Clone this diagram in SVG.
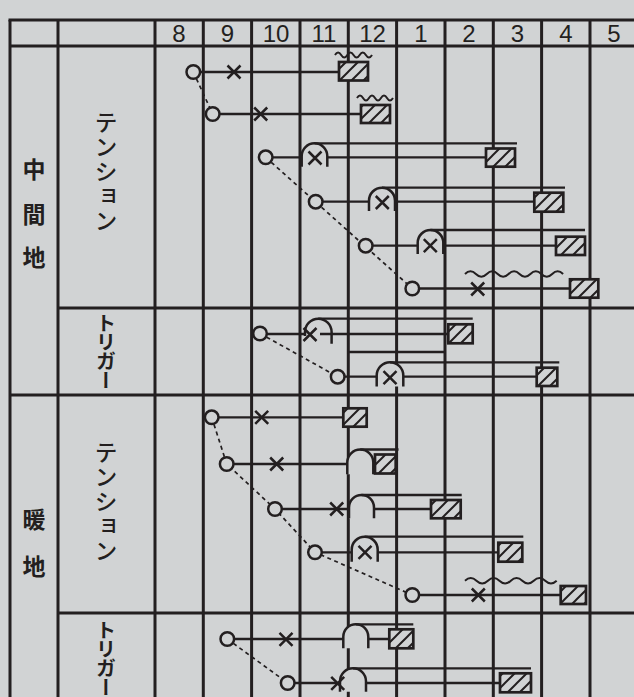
<svg xmlns="http://www.w3.org/2000/svg" xmlns:xlink="http://www.w3.org/1999/xlink" width="634" height="697" viewBox="0 0 634 697">
<style>
.g{stroke:#231f20;stroke-width:3;fill:none}
.l{stroke:#231f20;stroke-width:2.3;fill:none}
.d{stroke:#231f20;stroke-width:1.7;stroke-dasharray:4 3.5;fill:none}
.c{fill:#d1d3d4;stroke:#231f20;stroke-width:2.5}
.a{fill:#d1d3d4;stroke:#231f20;stroke-width:2.5}
.b{fill:url(#h);stroke:#231f20;stroke-width:2.7}
.x{stroke:#231f20;stroke-width:2.5;fill:none}
.w{stroke:#231f20;stroke-width:2;fill:none}
.n{font-family:"Liberation Sans",Arial,sans-serif;font-size:24px;fill:#231f20;text-anchor:middle}
.k{font-family:"Noto Sans CJK JP","Noto Sans",sans-serif;font-size:23px;font-weight:700;fill:#231f20;text-anchor:middle}
.v{font-family:"Noto Sans CJK JP","Noto Sans",sans-serif;font-size:23px;font-weight:500;fill:#231f20;text-anchor:middle;writing-mode:vertical-rl;letter-spacing:1.5px}
.t{font-family:"Noto Sans CJK JP","Noto Sans",sans-serif;font-size:20px;font-weight:700;fill:#231f20;text-anchor:middle;writing-mode:vertical-rl;letter-spacing:-1px}
</style>
<defs>
<pattern id="h" patternUnits="userSpaceOnUse" width="12" height="12">
<rect width="12" height="12" fill="#d1d3d4"/>
<path d="M0,12 L12,0 M-3,3 L3,-3 M9,15 L15,9" stroke="#231f20" stroke-width="2"/>
</pattern>
<path id="xm" d="M-6.5,-6.5 L6.5,6.5 M6.5,-6.5 L-6.5,6.5" class="x"/>
</defs>
<rect width="634" height="697" fill="#d1d3d4"/>
<g id="grid">
<path class="g" d="M10,20 V697 M58,20 V697 M155,20 V697 M203.3,20 V697 M251.6,20 V697 M300,20 V697 M348.3,20 V697 M396.6,20 V697 M445,20 V697 M493.3,20 V697 M541.6,20 V697 M590,20 V697"/>
<path class="g" d="M8.5,20 H634 M10,46 H634 M58,308 H634 M10,395 H634 M58,613 H634"/>
<path class="l" d="M348.3,352 H445"/>
</g>
<g id="header">
<text class="n" x="179" y="41.5">8</text>
<text class="n" x="227.5" y="41.5">9</text>
<text class="n" x="276" y="41.5">10</text>
<text class="n" x="324" y="41.5">11</text>
<text class="n" x="372.5" y="41.5">12</text>
<text class="n" x="421" y="41.5">1</text>
<text class="n" x="469" y="41.5">2</text>
<text class="n" x="517.5" y="41.5">3</text>
<text class="n" x="566" y="41.5">4</text>
<text class="n" x="614" y="41.5">5</text>
</g>
<g id="labels">
<text class="k" x="34" y="178">中</text>
<text class="k" x="34" y="223">間</text>
<text class="k" x="34" y="266">地</text>
<text class="k" x="34" y="528">暖</text>
<text class="k" x="34" y="575">地</text>
<text class="v" x="106" y="172">テンション</text>
<text class="t" x="106" y="351">トリガー</text>
<text class="v" x="106" y="502">テンション</text>
<text class="t" x="106" y="658">トリガー</text>
</g>
<g id="connectors">
<path class="d" d="M193.3,72 L212.7,114"/>
<path class="d" d="M265.7,157.3 L412.3,288.5"/>
<path class="d" d="M260,333.5 L337.7,376.7"/>
<path class="d" d="M211.7,417.3 L226.7,464 L275,509 L315,552.3 L412.3,595"/>
<path class="d" d="M227.3,639 L287.7,683"/>
</g>
<g id="row-m1">
<path class="l" d="M200.3,72 H339"/>
<use xlink:href="#xm" x="234" y="72"/>
<circle class="c" cx="193.3" cy="72" r="6.8"/>
<rect class="b" x="339" y="62" width="29" height="18.5"/>
<path class="w" d="M335,55 q3.08,-5 6.17,0 t6.17,0 t6.17,0 t6.17,0 t6.17,0 t6.17,0"/>
</g>
<g id="row-m2">
<path class="l" d="M219.7,114 H361"/>
<use xlink:href="#xm" x="260.7" y="114"/>
<circle class="c" cx="212.7" cy="114" r="6.8"/>
<rect class="b" x="361" y="105" width="29" height="18"/>
<path class="w" d="M357,98 q3,-5 6,0 t6,0 t6,0 t6,0 t6,0 t6,0"/>
</g>
<g id="row-m3">
<path class="l" d="M272.7,157.3 H301.7 M327.3,157.3 H486"/>
<path class="a" d="M301.7,166.7 V156.1 A12.8,12.8 0 0 1 327.3,156.1 V166.7"/>
<path class="l" d="M314.5,143.3 H517"/>
<use xlink:href="#xm" x="315" y="158"/>
<circle class="c" cx="265.7" cy="157.3" r="6.8"/>
<rect class="b" x="486" y="148.5" width="29" height="18.2"/>
</g>
<g id="row-m4">
<path class="l" d="M322.7,201.7 H369 M395,201.7 H534.3"/>
<path class="a" d="M369,211 V200.7 A13,13 0 0 1 395,200.7 V211"/>
<path class="l" d="M382,187.7 H565"/>
<use xlink:href="#xm" x="382.3" y="202.5"/>
<circle class="c" cx="315.7" cy="201.7" r="6.8"/>
<rect class="b" x="534.3" y="192.7" width="29" height="19"/>
</g>
<g id="row-m5">
<path class="l" d="M372.7,245.7 H417.7 M443.3,245.7 H556"/>
<path class="a" d="M417.7,254 V242.8 A12.8,12.8 0 0 1 443.3,242.8 V254"/>
<path class="l" d="M430.5,230 H585"/>
<use xlink:href="#xm" x="430.3" y="245.7"/>
<circle class="c" cx="365.7" cy="245.7" r="6.8"/>
<rect class="b" x="556" y="236.7" width="29" height="18.3"/>
</g>
<g id="row-m6">
<path class="l" d="M419.3,288.5 H570"/>
<use xlink:href="#xm" x="477.7" y="289"/>
<circle class="c" cx="412.3" cy="288.5" r="6.8"/>
<rect class="b" x="570" y="279.3" width="28.3" height="18.4"/>
<path class="w" d="M465,274 q5.45,-5.5 10.9,0 t10.9,0 t10.9,0 t10.9,0 t10.9,0 t10.9,0 t10.9,0 t10.9,0 t10.9,0"/>
</g>
<g id="row-m7">
<path class="a" d="M305,336 V332 A13.3,13.3 0 0 1 331.6,332 V343.7"/>
<path class="l" d="M267,334 H304 M320,334 H448.3"/>
<path class="l" d="M318.3,318.7 H472.7"/>
<use xlink:href="#xm" x="310" y="334.5"/>
<circle class="c" cx="260" cy="333.5" r="6.8"/>
<rect class="b" x="448.3" y="324.3" width="24.4" height="19"/>
</g>
<g id="row-m8">
<path class="l" d="M344.7,376.7 H376.7 M403.3,376.7 H536.7"/>
<path class="a" d="M376.7,386.5 V375.6 A13.3,13.3 0 0 1 403.3,375.6 V386.5"/>
<path class="l" d="M390,362.3 H559.3"/>
<use xlink:href="#xm" x="390" y="377.7"/>
<circle class="c" cx="337.7" cy="376.7" r="6.8"/>
<rect class="b" x="536.7" y="367.7" width="20.6" height="18.3"/>
</g>
<g id="row-w1">
<path class="l" d="M218.7,417.3 H343.3"/>
<use xlink:href="#xm" x="261.7" y="417.3"/>
<circle class="c" cx="211.7" cy="417.3" r="6.8"/>
<rect class="b" x="343.3" y="408.3" width="23.4" height="18.4"/>
</g>
<g id="row-w2">
<path class="l" d="M233.7,464 H347.3"/>
<path class="a" d="M347.3,474.3 V462.5 A13,13 0 0 1 373.3,462.5 V474.3"/>
<path class="l" d="M360.3,449.5 H398.5"/>
<use xlink:href="#xm" x="276.7" y="464"/>
<circle class="c" cx="226.7" cy="464" r="6.8"/>
<rect class="b" x="375" y="454.5" width="20.7" height="19"/>
</g>
<g id="row-w3">
<path class="l" d="M282,509 H349 M374,509 H431"/>
<path class="a" d="M349,518.3 V507.5 A12.5,12.5 0 0 1 374,507.5 V518.3"/>
<path class="l" d="M361.5,495 H461.7"/>
<use xlink:href="#xm" x="336.7" y="509"/>
<circle class="c" cx="275" cy="509" r="6.8"/>
<rect class="b" x="431" y="500" width="29.7" height="18.3"/>
</g>
<g id="row-w4">
<path class="l" d="M322,552.3 H351.7 M377.7,552.3 H498.3"/>
<path class="a" d="M351.7,561.7 V549.7 A13,13 0 0 1 377.7,549.7 V561.7"/>
<path class="l" d="M364.7,536.7 H523.3"/>
<use xlink:href="#xm" x="365" y="552.3"/>
<circle class="c" cx="315" cy="552.3" r="6.8"/>
<rect class="b" x="498.3" y="542.7" width="24" height="19"/>
</g>
<g id="row-w5">
<path class="l" d="M419.3,595 H560.7"/>
<use xlink:href="#xm" x="478.3" y="595"/>
<circle class="c" cx="412.3" cy="595" r="6.8"/>
<rect class="b" x="560.7" y="586" width="25.3" height="18"/>
<path class="w" d="M465,580.7 q5.73,-5.5 11.46,0 t11.46,0 t11.46,0 t11.46,0 t11.46,0 t11.46,0 t11.46,0 t11.46,0"/>
</g>
<g id="row-w6">
<path class="l" d="M234.3,639 H343.3 M368.3,639 H389.3"/>
<path class="a" d="M343.3,648.3 V636.8 A12.5,12.5 0 0 1 368.3,636.8 V648.3"/>
<path class="l" d="M355.8,624.3 H413.3"/>
<use xlink:href="#xm" x="286" y="639.3"/>
<circle class="c" cx="227.3" cy="639" r="6.8"/>
<rect class="b" x="389.3" y="629.3" width="24" height="19"/>
</g>
<g id="row-w7">
<path class="l" d="M294.7,683 H340 M366,683 H500"/>
<path class="a" d="M340,691.7 V681.3 A13,13 0 0 1 366,681.3 V691.7"/>
<path class="l" d="M353,668.3 H531"/>
<use xlink:href="#xm" x="337.7" y="683.3"/>
<circle class="c" cx="287.7" cy="683" r="6.8"/>
<rect class="b" x="500" y="673.3" width="31" height="19"/>
</g>
</svg>
